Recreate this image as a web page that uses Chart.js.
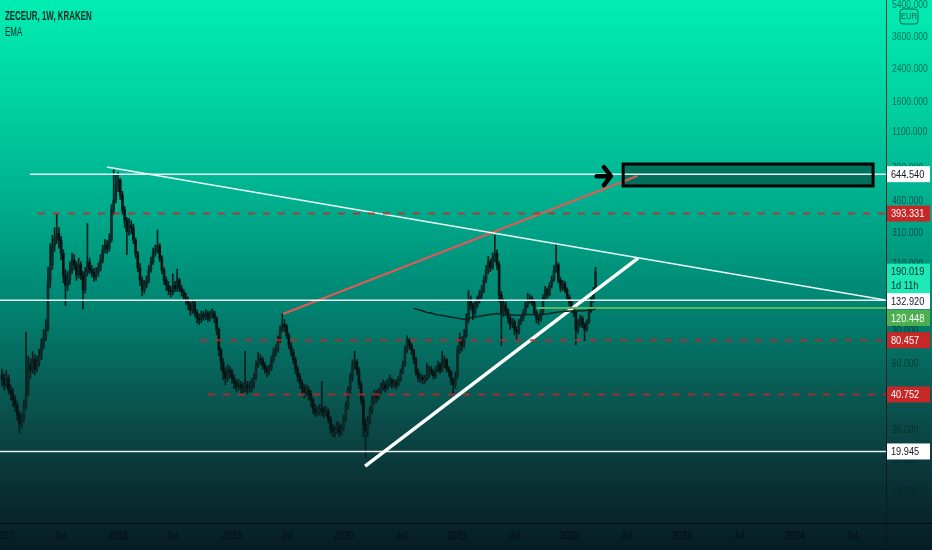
<!DOCTYPE html>
<html>
<head>
<meta charset="utf-8">
<script src="https://cdn.jsdelivr.net/npm/chart.js@4.4.1/dist/chart.umd.min.js"></script>
<style>
  html, body { margin: 0; padding: 0; background: #071a22; }
  #wrap { position: relative; width: 932px; height: 550px; overflow: hidden; }
  canvas { display: block; }
  .label { position: absolute; left: 5px; color: #0a2622; font-size: 12px; white-space: nowrap;
    font-family: "Liberation Sans", sans-serif; transform: scaleX(0.66); transform-origin: 0 0; }
  #title { top: 9px; font-weight: bold; }
  #sub { top: 25px; }
</style>
</head>
<body>
<div id="wrap">
  <canvas id="chart" width="932" height="550"></canvas>
  <div id="title" class="label">ZECEUR, 1W, KRAKEN</div>
  <div id="sub" class="label">EMA</div>
</div>
<script>
// weekly candles, index 0 = last week of Dec 2016
const firstOpen = 52;
const closes = [
  49, 46, 50, 43, 41, 38, 35.5, 31.5, 28, 30,
  35.5, 41, 59, 55, 63, 56, 61, 66, 75, 83,
  92, 165, 207, 264, 290, 307, 282, 239, 182, 160,
  171, 194, 220, 207, 182, 207, 182, 151, 188, 214,
  194, 188, 177, 188, 199, 220, 249, 264, 254, 282,
  411, 467, 560, 600, 495, 411, 363, 314, 340, 330,
  282, 239, 199, 171, 151, 160, 171, 194, 214, 239,
  249, 264, 225, 194, 171, 160, 151, 147, 160, 154,
  171, 154, 147, 139, 133, 125, 117, 128, 114, 106,
  104, 111, 108, 113, 106, 111, 113, 106, 91.5, 71,
  61, 54, 50, 55, 54, 50, 47, 45, 46, 44.5,
  44, 46, 44, 45, 47, 50, 59, 64, 63, 59,
  56, 54, 56, 63, 69.5, 71, 80.7, 91.5, 98, 95,
  85, 75.5, 69.5, 63, 56, 51, 47, 44, 42, 43,
  41, 38, 34, 32.5, 33, 34, 33, 32.5, 33, 30,
  26.6, 25.5, 26, 27.3, 25.5, 26.6, 30, 35.5, 43, 50,
  59, 61, 55, 46, 38, 28, 26, 29.6, 33.5, 38,
  41, 39, 42, 44.5, 46, 44, 46.5, 49, 46.5, 47,
  46, 49, 54, 59, 71, 80.7, 75.5, 71, 63, 54,
  50, 50.5, 49, 50, 51.5, 56, 54, 51.5, 56, 59,
  55, 58, 63, 56, 54, 49, 46, 51.5, 71, 80.7,
  75.5, 85, 104, 133, 125, 114, 125, 133, 142, 151,
  171, 194, 214, 199, 225, 239, 207, 142, 114, 125,
  117, 106, 98, 101, 91.5, 89, 101, 106, 114, 125,
  133, 136, 129.5, 114, 106, 104, 114, 136, 151, 142,
  160, 171, 194, 207, 171, 154, 163, 151, 138, 129.5,
  119, 114, 91.5, 98, 106, 98, 91.5, 101, 117, 133,
  151, 190.019
];
const highs = [
  56, 53, 55, 52, 46, 44, 40, 37, 33, 32,
  38, 89, 66, 64, 70, 67, 66, 72, 82, 92,
  104, 200, 270, 300, 330, 393, 330, 295, 250, 195,
  190, 215, 240, 235, 215, 225, 215, 190, 200, 347,
  225, 205, 198, 200, 212, 235, 265, 285, 280, 305,
  440, 680, 640, 660, 610, 520, 430, 375, 370, 360,
  345, 290, 245, 210, 178, 170, 180, 205, 228, 255,
  265, 320, 270, 232, 200, 178, 168, 158, 185, 168,
  196, 175, 160, 152, 145, 138, 130, 134, 132, 118,
  112, 116, 115, 118, 116, 116, 119, 116, 108, 94,
  73, 64, 57, 59, 58, 56, 52, 49, 49, 48,
  47, 70, 48, 48, 50, 53, 62, 69, 67, 65,
  61, 58, 59, 66, 73, 76, 85, 96, 112, 104,
  98, 88, 78, 72, 65, 58, 53, 49, 46, 46,
  45, 43, 39, 36, 35, 36, 48, 35, 35, 34,
  31, 28, 27.5, 29, 28.5, 28, 31.5, 37, 45, 53,
  63, 70, 63, 57, 48, 40, 30, 31, 35, 40,
  43, 43, 44, 47, 49, 48, 49, 52, 50, 49,
  49, 51, 56, 62, 75, 85, 82, 77, 72, 65,
  56, 53, 52, 52, 60, 58, 58, 55.5, 58, 62,
  61, 70, 66, 64, 58, 55, 50, 54, 75, 88,
  84, 92, 112, 150, 140, 128, 130, 140, 150, 160,
  180, 205, 230, 222, 240, 300, 250, 215, 148, 135,
  130, 120, 110, 106, 104, 95, 104, 110, 118, 130,
  145, 142, 140, 132, 117, 110, 118, 142, 158, 155,
  166, 180, 205, 270, 212, 176, 170, 168, 155, 142,
  132, 123, 116, 104, 110, 109, 100, 104, 121, 138,
  156, 200
];
const lows = [
  45, 43, 44, 41, 38, 35, 33, 29.5, 25, 27,
  29, 34, 40, 50, 53, 52, 54, 58, 63, 72,
  80, 90, 155, 195, 245, 270, 255, 220, 165, 124,
  150, 162, 185, 195, 170, 175, 172, 119, 145, 180,
  185, 178, 168, 170, 180, 192, 212, 240, 238, 245,
  275, 390, 450, 520, 470, 390, 330, 235, 300, 305,
  270, 225, 190, 160, 140, 145, 155, 165, 188, 208,
  230, 240, 215, 185, 162, 150, 142, 138, 142, 148,
  148, 148, 140, 133, 126, 118, 110, 112, 108, 100,
  98, 100, 103, 104, 101, 102, 106, 100, 86, 66,
  55, 49, 46, 48, 50, 47, 44, 42, 43, 41.5,
  41, 42, 41, 42, 42, 44, 49, 57, 59, 56,
  53, 51, 52, 55, 61, 66, 69, 78, 89, 90,
  82, 72, 66, 60, 53, 48, 44, 41, 39, 40,
  38, 35, 32, 31, 31, 31.5, 31, 30.5, 31, 28.5,
  25, 24, 24, 25, 24, 24.5, 26, 29, 34, 41,
  48, 56, 52, 44, 36, 24, 18.6, 24, 28, 32,
  36, 37, 38, 41, 43, 42, 43, 45, 44, 44.5,
  43.5, 45, 48, 53, 58, 69, 72, 67, 60, 52,
  48, 47.5, 46.5, 47, 48.5, 50, 52, 49.5, 50, 54,
  53, 54, 57, 54, 51, 46, 41, 44, 50, 68,
  70, 73, 83, 100, 118, 104, 110, 120, 128, 136,
  146, 165, 185, 190, 195, 215, 195, 130, 75, 108,
  110, 100, 92, 94, 86, 80, 87, 98, 103, 112,
  121, 128, 124, 110, 100, 98, 102, 112, 132, 136,
  140, 155, 168, 188, 165, 148, 150, 146, 133, 124,
  114, 108, 76, 88, 95, 94, 80, 90, 99, 114,
  130, 148
];

// EMA line, shown from week 188 onward
const emaStart = 188;
const emaValues = [
  120, 119, 118, 117, 116, 115, 114, 113.5, 113, 112, 111, 110.5,
  110, 109.5, 109, 108.5, 108, 107.5, 107, 106.5, 106, 105.5, 105, 104.5,
  104.5, 105.5, 106.5, 107, 107.5, 108, 108.5, 109, 109.5,
  110, 110.5, 111, 111.5, 112, 112.5, 112, 111.5, 111.5, 111,
  111, 110.5, 110.5, 110, 110, 110, 110, 110.5, 110.5, 111, 111, 111, 111, 110.5, 110.5,
  110.5, 111, 111.5, 112, 112.5, 113, 113.5, 114, 114.5, 115, 115, 115.5, 115.5, 116, 116,
  116, 116, 116, 116.5, 116.5, 116.5, 117, 117, 117.5, 118, 118.5
];

// axes
const weekMin = -0.9, weekMax = 403.6;
const priceMin = 8.135, priceMax = 5720;
const timeTickWeeks = [0.9, 26.5, 53, 77.6, 105, 130, 156, 182.6, 207.8, 234, 259, 285, 310.5, 336.5, 362, 388];
const timeTickLabels = ['2017', 'Jul', '2018', 'Jul', '2019', 'Jul', '2020', 'Jul', '2021', 'Jul', '2022', 'Jul', '2023', 'Jul', '2024', 'Jul'];
const priceTicks = [5400, 3600, 2400, 1600, 1100, 700, 460, 310, 210, 130, 90, 60, 40, 26, 18, 12];

// drawn levels [price, start week]
const whiteLevels = [644.54, 132.92, 19.945];
const whiteStarts = [12.8, weekMin, weekMin];
const redLevels = [393.331, 80.457, 40.752];
const redStarts = [16.4, 90.4, 94];
const greenLevel = 120.448;
const greenStart = 244.3;

// trend lines [week, price]
const downTrend = [[47.9, 705], [403.2, 133]];
const redTrend = [[128.3, 111.7], [290, 630]];
const whiteTrend = [[165.8, 16.6], [290.4, 225]];

// target box and arrow
const boxWeeks = [283.6, 397.7];
const boxPrices = [556, 732];
const arrowWeeks = [271.5, 278];
const arrowPrice = 644.54;
const countdown = '1d 11h';

const FONT = '"Liberation Sans", sans-serif';
Chart.defaults.font.family = FONT;
Chart.defaults.font.size = 11;

const opens = closes.map((c, i) => (i === 0 ? firstOpen : closes[i - 1]));
const wickData = closes.map((c, i) => ({ x: i, y: [lows[i], highs[i]] }));
const bodyData = closes.map((c, i) => ({ x: i, y: [Math.min(opens[i], c), Math.max(opens[i], c)] }));
const bodyColors = closes.map((c, i) => (c >= opens[i] ? '#0d2a27' : '#051313'));

const seg = (pts) => pts.map((p) => ({ x: p[0], y: p[1] }));
const lineSet = (data, color, width, dash) => ({
  type: 'line', data, borderColor: color, borderWidth: width, borderDash: dash || [],
  pointRadius: 0, tension: 0, fill: false, order: 0
});

const datasets = [
  { type: 'bar', data: wickData, backgroundColor: '#081d1d', barThickness: 1, grouped: false, order: 3 },
  { type: 'bar', data: bodyData, backgroundColor: bodyColors, barThickness: 2, minBarLength: 1, grouped: false, order: 2 },
  lineSet(emaValues.map((v, k) => ({ x: emaStart + k, y: v })), '#10201e', 1.5)
];
whiteLevels.forEach((v, k) => datasets.push(lineSet(seg([[whiteStarts[k], v], [weekMax, v]]), 'rgba(255,255,255,0.92)', 1.5)));
redLevels.forEach((v, k) => datasets.push(lineSet(seg([[redStarts[k], v], [weekMax, v]]), 'rgba(205,35,35,0.8)', 2, [7, 8])));
datasets.push(lineSet(seg([[greenStart, greenLevel], [weekMax, greenLevel]]), '#5cb85c', 2));
datasets.push(lineSet(seg(downTrend), 'rgba(255,255,255,0.92)', 1.5));
datasets.push(lineSet(seg(redTrend), '#e05a55', 2));
datasets.push(lineSet(seg(whiteTrend), '#ffffff', 3.5));

const tagStyles = [
  { v: whiteLevels[0], bg: '#ffffff', fg: '#131722' },
  { v: redLevels[0], bg: '#c62828', fg: '#ffffff' },
  { v: closes[closes.length - 1], bg: '#1de9b6', fg: '#0b2b26', sub: countdown, top: -8, h: 30 },
  { v: whiteLevels[1], bg: '#ffffff', fg: '#131722', top: -7, h: 16 },
  { v: greenLevel, bg: '#4caf50', fg: '#ffffff', top: 2, h: 16 },
  { v: redLevels[1], bg: '#c62828', fg: '#ffffff' },
  { v: redLevels[2], bg: '#c62828', fg: '#ffffff' },
  { v: whiteLevels[2], bg: '#ffffff', fg: '#131722' }
];

// narrow text like the chart's condensed axis font
const squeezeText = (ctx, text, x, y, k) => {
  ctx.fillText(text, x, y, ctx.measureText(text).width * k);
};

const zeroPad = (s) => { s.paddingLeft = 0; s.paddingRight = 0; s.paddingTop = 0; s.paddingBottom = 0; };

const overlay = {
  id: 'overlay',
  beforeDraw(chart) {
    const { ctx, width, height } = chart;
    const g = ctx.createLinearGradient(0, 0, 0, height);
    g.addColorStop(0, '#00edb3');
    g.addColorStop(0.18, '#00d3a3');
    g.addColorStop(0.36, '#00b08f');
    g.addColorStop(0.55, '#008573');
    g.addColorStop(0.73, '#0a5550');
    g.addColorStop(0.86, '#0b3538');
    g.addColorStop(1, '#061c24');
    ctx.save();
    ctx.fillStyle = g;
    ctx.fillRect(0, 0, width, height);
    ctx.restore();
  },
  beforeDatasetsDraw(chart) {
    const { ctx, scales: { x, y } } = chart;
    ctx.save();
    ctx.fillStyle = 'rgba(0,55,48,0.55)';
    const x0 = x.getPixelForValue(boxWeeks[0]), x1 = x.getPixelForValue(boxWeeks[1]);
    const y0 = y.getPixelForValue(boxPrices[1]), y1 = y.getPixelForValue(boxPrices[0]);
    ctx.fillRect(x0, y0, x1 - x0, y1 - y0);
    ctx.restore();
  },
  afterDatasetsDraw(chart) {
    const { ctx, scales: { x, y } } = chart;
    ctx.save();
    const x0 = x.getPixelForValue(boxWeeks[0]), x1 = x.getPixelForValue(boxWeeks[1]);
    const y0 = y.getPixelForValue(boxPrices[1]), y1 = y.getPixelForValue(boxPrices[0]);
    ctx.strokeStyle = '#000000';
    ctx.lineWidth = 3;
    ctx.strokeRect(x0, y0, x1 - x0, y1 - y0);
    // arrow
    const ax0 = x.getPixelForValue(arrowWeeks[0]), ax1 = x.getPixelForValue(arrowWeeks[1]);
    const ay = y.getPixelForValue(arrowPrice) + 2;
    ctx.lineWidth = 4.5;
    ctx.lineCap = 'round';
    ctx.lineJoin = 'round';
    ctx.beginPath();
    ctx.moveTo(ax0, ay);
    ctx.lineTo(ax1 - 1, ay);
    ctx.moveTo(ax1 - 7, ay - 9);
    ctx.lineTo(ax1, ay);
    ctx.lineTo(ax1 - 7, ay + 9);
    ctx.stroke();
    ctx.restore();
  },
  afterDraw(chart) {
    const { ctx, chartArea, width, height, scales: { x, y } } = chart;
    ctx.save();
    // axis lines
    ctx.strokeStyle = 'rgba(0,25,25,0.75)';
    ctx.lineWidth = 1;
    ctx.beginPath();
    ctx.moveTo(chartArea.right + 0.5, 0);
    ctx.lineTo(chartArea.right + 0.5, height);
    ctx.stroke();
    ctx.strokeStyle = 'rgba(0,0,0,0.7)';
    ctx.beginPath();
    ctx.moveTo(0, chartArea.bottom + 0.5);
    ctx.lineTo(width, chartArea.bottom + 0.5);
    ctx.stroke();
    // time labels
    ctx.font = '11px ' + FONT;
    ctx.textBaseline = 'middle';
    ctx.textAlign = 'center';
    ctx.fillStyle = 'rgba(0,0,0,0.6)';
    timeTickWeeks.forEach((w, k) => squeezeText(ctx, timeTickLabels[k], x.getPixelForValue(w), chartArea.bottom + 13, 0.82));
    // price scale labels
    ctx.textAlign = 'left';
    ctx.fillStyle = 'rgba(0,30,30,0.62)';
    priceTicks.forEach((v) => squeezeText(ctx, v.toFixed(3), chartArea.right + 6, y.getPixelForValue(v), 0.78));
    // currency badge
    ctx.strokeStyle = 'rgba(0,40,35,0.7)';
    ctx.beginPath();
    ctx.roundRect(chartArea.right + 14, 9, 18, 15, 3);
    ctx.stroke();
    ctx.fillStyle = 'rgba(0,40,35,0.75)';
    ctx.font = '9px ' + FONT;
    ctx.textAlign = 'center';
    squeezeText(ctx, 'EUR', chartArea.right + 23, 17, 0.85);
    // price tags
    ctx.textAlign = 'left';
    ctx.font = '11.5px ' + FONT;
    tagStyles.forEach((t) => {
      const py = y.getPixelForValue(t.v);
      const top = py + (t.top !== undefined ? t.top : -8);
      const h = t.h || 16;
      ctx.fillStyle = t.bg;
      ctx.fillRect(chartArea.right + 1, top, 43, h);
      ctx.fillStyle = t.fg;
      squeezeText(ctx, t.v.toFixed(3), chartArea.right + 5, top + 8.5, 0.8);
      if (t.sub) squeezeText(ctx, t.sub, chartArea.right + 5, top + 22, 0.8);
    });
    ctx.restore();
  }
};

new Chart(document.getElementById('chart'), {
  type: 'bar',
  data: { datasets },
  options: {
    responsive: false,
    animation: false,
    events: [],
    devicePixelRatio: 1,
    layout: { padding: 0, autoPadding: false },
    plugins: { legend: { display: false }, tooltip: { enabled: false }, title: { display: false } },
    scales: {
      x: {
        type: 'linear', min: weekMin, max: weekMax, offset: false,
        grid: { display: false, drawTicks: false, offset: false }, border: { display: false },
        ticks: { display: false },
        afterBuildTicks: (s) => { s.ticks = timeTickWeeks.map((v) => ({ value: v })); },
        afterFit: (s) => { s.height = 27; zeroPad(s); }
      },
      y: {
        type: 'logarithmic', position: 'right', min: priceMin, max: priceMax,
        grid: { display: false, drawTicks: false }, border: { display: false },
        ticks: { display: false },
        afterBuildTicks: (s) => { s.ticks = priceTicks.map((v) => ({ value: v })); },
        afterFit: (s) => { s.width = 46; zeroPad(s); }
      }
    }
  },
  plugins: [overlay]
});
</script>
</body>
</html>
